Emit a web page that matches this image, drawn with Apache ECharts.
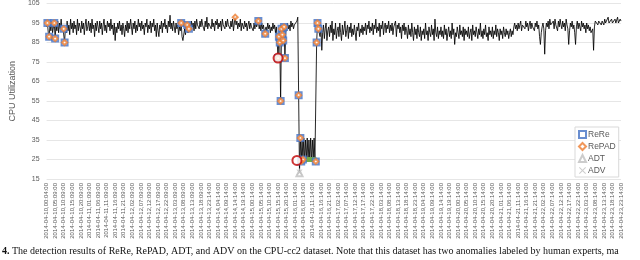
<!DOCTYPE html>
<html><head><meta charset="utf-8">
<script src="https://cdn.jsdelivr.net/npm/echarts@6/dist/echarts.min.js"></script>
<style>html,body{margin:0;padding:0;background:#fff}#c{width:640px;height:260px}</style>
</head><body><div id="c"></div>
<script>
const tickLabels = [
"2014-04-10,00:04:00","2014-04-10,05:09:00","2014-04-10,10:09:00","2014-04-10,15:09:00","2014-04-10,20:09:00",
"2014-04-11,01:09:00","2014-04-11,06:09:00","2014-04-11,11:09:00","2014-04-11,16:09:00","2014-04-11,21:09:00",
"2014-04-12,02:09:00","2014-04-12,07:09:00","2014-04-12,12:09:00","2014-04-12,17:09:00","2014-04-12,22:09:00",
"2014-04-13,03:09:00","2014-04-13,08:09:00","2014-04-13,13:09:00","2014-04-13,18:09:00","2014-04-13,23:14:00",
"2014-04-14,04:14:00","2014-04-14,09:14:00","2014-04-14,14:14:00","2014-04-14,19:14:00","2014-04-15,00:14:00",
"2014-04-15,05:14:00","2014-04-15,10:14:00","2014-04-15,15:14:00","2014-04-15,20:14:00","2014-04-16,01:14:00",
"2014-04-16,06:14:00","2014-04-16,11:14:00","2014-04-16,16:14:00","2014-04-16,21:14:00","2014-04-17,02:14:00",
"2014-04-17,07:14:00","2014-04-17,12:14:00","2014-04-17,17:14:00","2014-04-17,22:14:00","2014-04-18,03:14:00",
"2014-04-18,08:14:00","2014-04-18,13:14:00","2014-04-18,18:14:00","2014-04-18,23:14:00","2014-04-19,04:14:00",
"2014-04-19,09:14:00","2014-04-19,14:14:00","2014-04-19,19:14:00","2014-04-20,00:14:00","2014-04-20,05:14:00",
"2014-04-20,10:14:00","2014-04-20,15:14:00","2014-04-20,20:14:00","2014-04-21,01:14:00","2014-04-21,06:14:00",
"2014-04-21,11:14:00","2014-04-21,16:14:00","2014-04-21,21:14:00","2014-04-22,02:14:00","2014-04-22,07:14:00",
"2014-04-22,12:14:00","2014-04-22,17:14:00","2014-04-22,22:14:00","2014-04-23,03:14:00","2014-04-23,08:14:00",
"2014-04-23,13:14:00","2014-04-23,18:14:00","2014-04-23,23:14:00"];
const pointsPerTick = 10;

const cpu = [
93,95,90,88,94,91,96,90,93,95,
87,94,91,96,90,95,92,97,91,93,
92,85,93,90,96,91,94,89,97,92,
95,90,96,92,94,89,97,91,95,93,
90,96,92,95,89,94,97,91,93,96,
91,95,90,97,92,94,88,95,91,96,
93,90,96,92,95,89,94,97,91,94,
90,96,93,95,91,97,92,94,89,95,
86,93,90,95,92,96,91,94,89,95,
92,88,94,91,96,90,95,92,97,93,
89,95,92,96,90,94,91,97,93,95,
91,96,92,94,89,95,93,97,90,94,
92,96,90,95,93,97,91,94,88,95,
91,88,94,92,96,90,95,93,97,92,
94,90,96,93,99,92,95,91,96,93,
90,95,92,94,89,93,91,95,88,86,
87,92,89,93,94,90,92,95,91,96,
93,95,91,96,92,97,94,95,92,96,
93,97,94,95,91,96,93,98,92,95,
94,96,92,97,93,95,91,96,94,97,
92,95,93,96,91,97,94,95,92,96,
93,97,94,95,92,96,93,97,91,95,
98,94,96,92,95,93,97,91,95,94,
92,96,93,95,91,94,96,92,95,93,
94,91,95,92,96,93,94,96,92,94,
91,95,92,94,90,89.5,93,91,95,92,
94,90,93,91,95,92,94,90,93,92,
77,88,85,55,92,89,86,93,77,90,
93,95,92,94,91,96,93,95,92,94,
95,93,96,98,58,18,36,24,35,25,
36,24,35,25,36,24,35,25,36,24,
35,25,36,25,24,85,95,92,90,88,
93,81,90,94,87,92,95,86,91,93,
88,94,90,96,86,92,89,95,87,91,
93,88,95,90,86,94,89,92,96,88,
91,94,87,93,90,95,88,92,89,94,
90,86,93,91,95,88,92,90,94,89,
93,91,95,89,94,92,96,90,93,91,
95,89,94,92,97,90,93,91,95,88,
94,92,96,89,93,95,90,94,92,96,
90,94,91,95,89,93,92,96,88,94,
92,95,90,93,87,94,91,95,89,93,
91,87,94,89,92,88,95,90,86,93,
89,92,87,94,90,88,93,86,91,89,
92,87,95,89,91,86,93,90,88,94,
89,92,86,97,90,88,93,87,91,89,
93,88,91,87,94,89,92,86,90,93,
88,91,87,95,89,92,84,90,88,93,
90,87,94,89,91,88,93,86,92,89,
91,88,93,87,90,92,86,94,89,91,
88,93,90,87,92,89,95,88,91,87,
92,89,94,88,90,86,93,89,91,88,
93,87,91,89,94,88,92,90,86,92,
89,91,87,93,90,88,92,89,91,87,
90,92,88,91,89,93,95,92,94,91,
95,92,94,96,91,94,93,95,92,96,
93,95,91,94,96,92,95,93,94,91,
95,93,96,92,94,88,84,90,93,95,
92,79,91,95,93,96,92,97,94,95,
93,96,92,97,94,95,91,96,93,97,
94,92,96,93,95,91,97,94,92,84,
91,95,93,96,92,94,90,84,93,96,
92,95,94,91,96,93,95,92,94,90,
95,92,94,91,93,90,89,92,81,93,
96,95,97,94,96,95,97,94,96,95,
94,97,95,96,94,98,95,96,94,97,
95,96,94,97,95,96,98,95,96,97,
96];

const rereIdx = [1,3,9,10,20,21,157,164,166,247,255,270,271,272,273,274,275,276,277,278,294,296,297,299,314,315,316,317];
const rereVal = [95,88,95,87,92,85,95,94,92,96,89.5,77,88,85,55,92,89,86,93,77,58,36,24,25,24,85,95,92];
const repadIdx = [1,3,9,10,20,21,157,164,166,220,247,255,270,271,272,273,274,275,276,277,278,294,296,297,299,314,315,316,317];
const repadVal = [95,88,95,87,92,85,95,94,92,98,96,89.5,77,88,85,55,92,89,86,93,77,58,36,24,25,24,85,95,92];
const adtIdx = [295];
const adtVal = [18];
const advIdx = [295];
const advVal = [18.5];
const labeledIdx = [270,292];
const labeledVal = [77,24.5];
const greenIdx = [297,298,299,300,301,302,303,304,305,306,307,308,309,310,311,312,313];
const greenVal = [25,25,25,25,25,25,25,25,25,25,25,25,25,25,25,25,25];

const yTicks = [15,25,35,45,55,65,75,85,95,105];

const categories = cpu.map((v,i) => (i % pointsPerTick === 0 && tickLabels[i/pointsPerTick]) ? tickLabels[i/pointsPerTick] : ('p' + i));
const pairs = (a,b) => a.map((x,k) => [x, b[k]]);
const xPath = 'path://M0,1L1,0L5,4L9,0L10,1L6,5L10,9L9,10L5,6L1,10L0,9L4,5Z';

const chart = echarts.init(document.getElementById('c'), null, {renderer:'canvas'});
chart.setOption({
  animation:false,
  backgroundColor:'#fff',
  textStyle:{fontFamily:'Liberation Sans'},
  grid:{left:35, right:19, top:1, bottom:81, containLabel:false},
  xAxis:{type:'category', data:categories, boundaryGap:false,
    axisLine:{show:false}, axisTick:{show:false},
    axisLabel:{interval:pointsPerTick-1, rotate:90, fontSize:6, color:'#595959', margin:4}},
  yAxis:{type:'value', min:yTicks[0], max:yTicks[yTicks.length-1], interval:10,
    name:'CPU Utilization', nameLocation:'middle', nameGap:19,
    nameTextStyle:{fontSize:9, color:'#595959'},
    axisLine:{show:false}, axisTick:{show:false},
    axisLabel:{fontSize:7, color:'#595959', margin:7},
    splitLine:{lineStyle:{color:'#E6E6E6', width:1}}},
  legend:{orient:'vertical', left:575, top:127, itemWidth:7, itemHeight:7, itemGap:3,
    padding:[3,3,2,3], borderColor:'#D9D9D9', borderWidth:1, backgroundColor:'#fff',
    textStyle:{fontSize:8.5, color:'#595959', padding:[0,0,0,-3]},
    data:['ReRe','RePAD','ADT','ADV']},
  graphic:[{type:'text', left:2, top:246, style:{
    text:'{b|4.} The detection results of ReRe, RePAD, ADT, and ADV on the CPU-cc2 dataset. Note that this dataset has two anomalies labeled by human experts, ma',
    font:'10px "Liberation Serif"', fill:'#111',
    rich:{b:{font:'bold 10px "Liberation Serif"', fill:'#111'}}}}],
  series:[
    {name:'CPU', type:'line', data:cpu, symbol:'none', lineStyle:{color:'#000', width:0.85}, z:1},
    {name:'Green', type:'scatter', data:pairs(greenIdx,greenVal), symbol:'circle', symbolSize:5,
      itemStyle:{color:'#70AD47'}, z:2},
    {name:'ReRe', type:'scatter', data:pairs(rereIdx,rereVal), symbol:'emptyRect', symbolSize:6,
      itemStyle:{color:'#4472C4', borderColor:'#4472C4', borderWidth:1}, z:3},
    {name:'RePAD', type:'scatter', data:pairs(repadIdx,repadVal), symbol:'emptyDiamond', symbolSize:5,
      itemStyle:{color:'#ED7D31', borderColor:'#ED7D31', borderWidth:0.9}, z:4},
    {name:'ADT', type:'scatter', data:pairs(adtIdx,adtVal), symbol:'emptyTriangle', symbolSize:6,
      itemStyle:{color:'#BFBFBF', borderColor:'#BFBFBF', borderWidth:1}, z:5},
    {name:'ADV', type:'scatter', data:pairs(advIdx,advVal), symbol:xPath, symbolSize:6,
      itemStyle:{color:'#BFBFBF'}, z:5},
    {name:'Labeled', type:'scatter', data:pairs(labeledIdx,labeledVal), symbol:'emptyCircle', symbolSize:9,
      itemStyle:{color:'#C00000', borderColor:'#C00000', borderWidth:1.5}, z:6}
  ]
});
</script></body></html>
